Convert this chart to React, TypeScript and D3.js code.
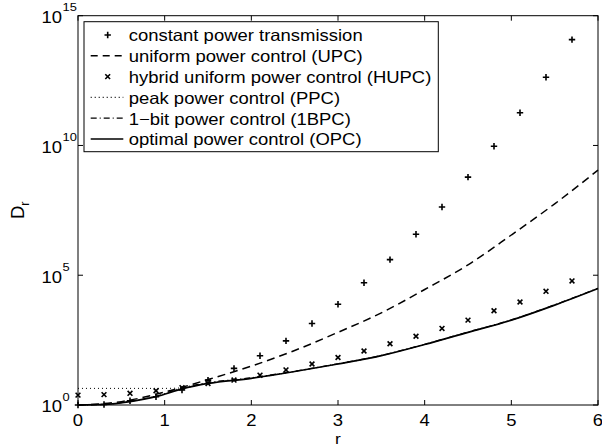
import React from 'react';
import * as d3 from 'd3';

// r values where markers are drawn
const markerR = [0, 0.3, 0.6, 0.9, 1.2, 1.5, 1.8, 2.1, 2.4, 2.7, 3.0, 3.3, 3.6, 3.9, 4.2, 4.5, 4.8, 5.1, 5.4, 5.7];
const constantPower = [1, 1.05, 1.46, 2.09, 3.8, 9.1, 25.7, 79.4, 295, 1.38e3, 7.59e3, 5.13e4, 3.98e5, 3.8e6, 4.27e7, 6.03e8, 9.33e9, 1.82e11, 4.27e12, 1.2e14];
const hybridUpc = [2.4, 2.51, 2.82, 3.55, 4.68, 6.76, 9.12, 14.1, 22.4, 38.0, 67.6, 120, 229, 447, 891, 1862, 4266, 9333, 2.4e4, 6.03e4];

const upcR = [0, 0.5, 1, 1.5, 2, 2.5, 3, 3.5, 4, 4.5, 5, 5.5, 6];
const upc = [1, 1.35, 3.16, 9.55, 31.6, 126, 631, 3548, 2.82e4, 2.51e5, 3.55e6, 5.62e7, 1.12e9];

const ppcR = [0, 0.5, 1, 1.2, 1.5, 2, 2.5, 3, 3.5, 4, 4.5, 5, 5.5, 6];
const ppc = [4.37, 4.37, 4.37, 4.57, 6.92, 10.7, 19.5, 38, 79.4, 214, 631, 1862, 7079, 3.09e4];

const curveR = [0, 0.3, 0.6, 0.9, 1.2, 1.5, 2, 2.5, 3, 3.5, 4, 4.5, 5, 5.5, 6];
const oneBit = [1, 1.05, 1.38, 2.19, 4.57, 7.24, 11.2, 20, 38.9, 81.3, 219, 646, 1905, 7244, 3.16e4];
const opc = [1, 1.05, 1.35, 2.09, 4.17, 6.76, 10.7, 19.5, 38.0, 79.4, 214, 631, 1862, 7079, 3.09e4];

const xTicks = [0, 1, 2, 3, 4, 5, 6];
const yTickExponents = [0, 5, 10, 15];

const legendLabels = [
  'constant power transmission',
  'uniform power control (UPC)',
  'hybrid uniform power control (HUPC)',
  'peak power control (PPC)',
  '1\u2212bit power control (1BPC)',
  'optimal power control (OPC)',
];

const font = '"Liberation Sans", Arial, Helvetica, sans-serif';
// the original figure text is slightly wider than Arial
const stretch = 1.12;

const T = ({ x, y, size, anchor, children }: { x: number; y: number; size: number; anchor?: string; children: any }) => (
  <text transform={`translate(${x},${y}) scale(${stretch},1)`} fontSize={size} textAnchor={anchor || 'start'} fill="#000">
    {children}
  </text>
);

export default function App() {
  const width = 602;
  const height = 445;
  const plot = { left: 78, right: 598, top: 15.7, bottom: 405 };

  const x = d3.scaleLinear().domain([0, 6]).range([plot.left, plot.right]);
  const y = d3.scaleLog().domain([1, 1e15]).range([plot.bottom, plot.top]);

  const line = d3
    .line<[number, number]>()
    .x(d => x(d[0]))
    .y(d => y(d[1]))
    .curve(d3.curveMonotoneX);

  const zip = (rs: number[], vs: number[]) => rs.map((r, i) => [r, vs[i]] as [number, number]);

  const plus = (cx: number, cy: number, s = 3.2) =>
    `M${cx - s},${cy}H${cx + s}M${cx},${cy - s}V${cy + s}`;
  const cross = (cx: number, cy: number, s = 2.4) =>
    `M${cx - s},${cy - s}L${cx + s},${cy + s}M${cx - s},${cy + s}L${cx + s},${cy - s}`;

  const tickLen = 5;
  const legend = { x: 84, y: 21.7, w: 354.3, h: 130, row: 20.8 };
  const legendStyles: { dash?: string; marker?: 'plus' | 'cross'; width?: number }[] = [
    { marker: 'plus' },
    { dash: '7,5', width: 1.5 },
    { marker: 'cross' },
    { dash: '1,3' },
    { dash: '6,3,1,3' },
    { width: 1.6 },
  ];

  return (
    <svg width={width} height={height} style={{ position: 'absolute', left: 0, top: 0 }} fontFamily={font}>
      <rect x={0} y={0} width={width} height={height} fill="#fff" />

      {/* series */}
      <g fill="none" stroke="#000">
        {markerR.map((r, i) => (
          <path key={'p' + i} d={plus(x(r), y(constantPower[i]))} strokeWidth={1.6} />
        ))}
        <path d={line(zip(upcR, upc)) || ''} strokeWidth={1.5} strokeDasharray="8,5" />
        {markerR.map((r, i) => (
          <path key={'c' + i} d={cross(x(r), y(hybridUpc[i]))} strokeWidth={1.6} />
        ))}
        <path d={line(zip(ppcR, ppc)) || ''} strokeWidth={1} strokeDasharray="1,3" />
        <path d={line(zip(curveR, oneBit)) || ''} strokeWidth={1.2} strokeDasharray="6,3,1,3" />
        <path d={line(zip(curveR, opc)) || ''} strokeWidth={1.7} />
      </g>

      {/* axes box and ticks */}
      <rect
        x={plot.left}
        y={plot.top}
        width={plot.right - plot.left}
        height={plot.bottom - plot.top}
        fill="none"
        stroke="#000"
        strokeWidth={1}
      />
      <g stroke="#000" strokeWidth={1}>
        {xTicks.map(t => (
          <g key={'xt' + t}>
            <line x1={x(t)} x2={x(t)} y1={plot.bottom} y2={plot.bottom - tickLen} />
            <line x1={x(t)} x2={x(t)} y1={plot.top} y2={plot.top + tickLen} />
          </g>
        ))}
        {yTickExponents.map(e => (
          <g key={'yt' + e}>
            <line x1={plot.left} x2={plot.left + tickLen} y1={y(10 ** e)} y2={y(10 ** e)} />
            <line x1={plot.right} x2={plot.right - tickLen} y1={y(10 ** e)} y2={y(10 ** e)} />
          </g>
        ))}
      </g>

      {/* tick labels */}
      {xTicks.map(t => (
        <T key={'xl' + t} x={x(t)} y={plot.bottom + 20.5} size={16.5} anchor="middle">
          {t}
        </T>
      ))}
      {yTickExponents.map(e => (
        <g key={'yl' + e}>
          <T x={62} y={y(10 ** e) + 7.3} size={16.5} anchor="end">
            10
          </T>
          <T x={62.5} y={y(10 ** e) - 4.3} size={11.5}>
            {e}
          </T>
        </g>
      ))}

      {/* axis labels */}
      <T x={x(3)} y={443.5} size={15.5} anchor="middle">
        r
      </T>
      <g transform="translate(24,219) rotate(-90)">
        <text x={0} y={0} fontSize={18.5}>
          D
          <tspan fontSize={12.5} dy={5}>
            r
          </tspan>
        </text>
      </g>

      {/* legend */}
      <g>
        <rect x={legend.x} y={legend.y} width={legend.w} height={legend.h} fill="#fff" stroke="#000" strokeWidth={1} />
        {legendLabels.map((label, i) => {
          const cy = legend.y + 13.3 + i * legend.row;
          const st = legendStyles[i];
          return (
            <g key={'lg' + i}>
              {st.marker === 'plus' && <path d={plus(107.7, cy)} stroke="#000" strokeWidth={1.6} fill="none" />}
              {st.marker === 'cross' && <path d={cross(107.7, cy)} stroke="#000" strokeWidth={1.6} fill="none" />}
              {!st.marker && (
                <line
                  x1={90.7}
                  x2={123.3}
                  y1={cy}
                  y2={cy}
                  stroke="#000"
                  strokeWidth={st.width || 1.2}
                  strokeDasharray={st.dash}
                />
              )}
              <T x={128.7} y={cy + 6.3} size={16.5}>
                {label}
              </T>
            </g>
          );
        })}
      </g>
    </svg>
  );
}
